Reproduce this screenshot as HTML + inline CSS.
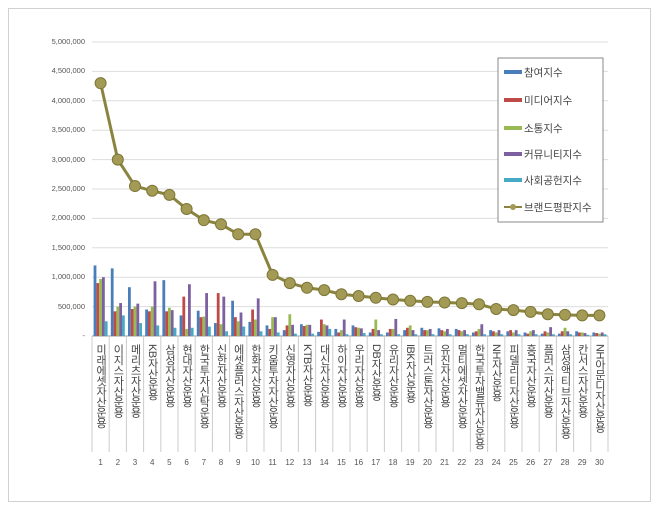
<!DOCTYPE html>
<html><head><meta charset="utf-8">
<style>
body{margin:0;background:#fff;font-family:"Liberation Sans","Noto Sans CJK KR",sans-serif;}
#wrap{position:relative;width:660px;height:511px;}
#frame{position:absolute;left:8px;top:8px;width:643px;height:494px;border:1px solid #d0d0d0;box-sizing:border-box;}
.lbl{position:absolute;writing-mode:vertical-rl;text-orientation:mixed;font-size:11px;color:#444;line-height:12px;letter-spacing:-0.5px;}
.num{position:absolute;font-size:8px;color:#555;text-align:center;width:17px;}
.yt{position:absolute;font-size:7.5px;color:#555;text-align:right;width:70px;}
</style></head><body>
<div id="wrap">
<div id="frame"></div>
<svg id="svg" width="660" height="511" style="position:absolute;left:0;top:0"></svg>
<div id="labels"></div>
</div>
<script>
const categories=["미래에셋자산운용","이지스자산운용","메리츠자산운용","KB자산운용","삼성자산운용","현대자산운용","한국투자신탁운용","신한자산운용","에셋플러스자산운용","한화자산운용","키움투자자산운용","신영자산운용","KTB자산운용","대신자산운용","하이자산운용","우리자산운용","DB자산운용","유리자산운용","IBK자산운용","트러스톤자산운용","유진자산운용","멀티에셋자산운용","한국투자밸류자산운용","NH자산운용","피델리티자산운용","흥국자산운용","플러스자산운용","삼성액티브자산운용","칸서스자산운용","NH아문디자산운용"];
const participation=[1200000,1150000,830000,450000,950000,350000,430000,220000,600000,240000,180000,100000,200000,70000,120000,180000,60000,60000,100000,140000,130000,120000,60000,100000,80000,60000,40000,40000,80000,60000];
const media=[900000,420000,460000,420000,420000,670000,320000,730000,320000,450000,120000,180000,170000,280000,60000,150000,120000,120000,140000,100000,100000,100000,80000,80000,100000,40000,80000,80000,60000,50000];
const communication=[970000,500000,500000,500000,480000,120000,330000,200000,250000,280000,320000,370000,190000,200000,100000,140000,280000,120000,180000,100000,80000,80000,120000,60000,60000,80000,60000,140000,60000,40000];
const community=[1000000,560000,550000,930000,440000,880000,730000,670000,400000,640000,320000,190000,190000,180000,280000,130000,100000,290000,100000,120000,120000,100000,200000,100000,100000,100000,150000,80000,50000,60000];
const social=[250000,350000,220000,180000,140000,140000,160000,80000,160000,80000,60000,40000,40000,120000,30000,50000,30000,30000,30000,30000,30000,30000,30000,30000,30000,30000,30000,30000,20000,30000];
const brand=[4300000,3000000,2550000,2470000,2400000,2160000,1970000,1900000,1730000,1730000,1040000,900000,820000,780000,710000,680000,650000,620000,600000,580000,570000,560000,540000,460000,440000,410000,370000,360000,350000,350000];
const yTicks=[0,500000,1000000,1500000,2000000,2500000,3000000,3500000,4000000,4500000,5000000];
const seriesNames=["참여지수","미디어지수","소통지수","커뮤니티지수","사회공헌지수","브랜드평판지수"];
const colors=["#4a7ebb","#be4b48","#98b954","#7d60a0","#46aac5","#8b8440"];

const NS="http://www.w3.org/2000/svg";
const svg=document.getElementById('svg');
const L=document.getElementById('labels');
const x0=92,x1=608,yBase=336,yTop=42,maxV=5000000;
const cw=(x1-x0)/categories.length;
const y=v=>yBase-(v/maxV)*(yBase-yTop);
const xc=i=>x0+cw*(i+0.5);
function mk(t,a){const e=document.createElementNS(NS,t);for(const k in a)e.setAttribute(k,a[k]);svg.appendChild(e);return e;}
yTicks.forEach((t,k)=>{
 const g=mk('line',{x1:x0,x2:x1,y1:y(t),y2:y(t),stroke:k==0?'#999':'#ddd','stroke-width':1});
 
 
 const d=document.createElement('div');d.className='yt';
 d.style.left='15px';d.style.top=(y(t)-5)+'px';
 d.textContent=t==0?'-':t.toLocaleString('en-US');
 
 
 L.appendChild(d);
});
for(let i=0;i<=categories.length;i++){
 const s=mk('line',{x1:x0+cw*i,x2:x0+cw*i,y1:yBase,y2:452,stroke:'#ccc','stroke-width':1});
 
 
}
const series=[participation,media,communication,community,social];
const bw=2.8;
series.forEach((arr,s)=>{
 arr.forEach((v,i)=>{
  const r=mk('rect',{x:xc(i)-bw*2.5+s*bw,y:y(v),width:bw,height:yBase-y(v),fill:colors[s]});
  
  
 });
});
const pl=mk('polyline',{points:brand.map((v,i)=>xc(i)+','+y(v)).join(' '),fill:'none',stroke:colors[5],'stroke-width':3});


brand.forEach((v,i)=>{
 const c=mk('circle',{cx:xc(i),cy:y(v),r:5.5,fill:'#a39a55',stroke:'#7d7636','stroke-width':1});
 
 
});
categories.forEach((c,i)=>{
 const d=document.createElement('div');d.className='lbl';
 d.style.left=(xc(i)-6)+'px';d.style.top='344px';d.textContent=c;
 
 
 L.appendChild(d);
 const n=document.createElement('div');n.className='num';
 n.style.left=(xc(i)-8.5)+'px';n.style.top='458px';n.textContent=i+1;
 
 
 L.appendChild(n);
});
const lb=mk('rect',{x:498,y:58,width:105,height:164,fill:'#fff',stroke:'#888','stroke-width':1});


const ly=[72,100,128,154,180,207];
seriesNames.forEach((n,k)=>{
 if(k<5){const r=mk('rect',{x:504,y:ly[k]-2,width:18,height:4,fill:colors[k]});
  
  }
 else{const l=mk('line',{x1:504,x2:522,y1:ly[k],y2:ly[k],stroke:colors[5],'stroke-width':2});
  
  
  const c=mk('circle',{cx:513,cy:ly[k],r:3,fill:'#a39a55'});
  
  }
 const t=mk('text',{x:524,y:ly[k]+4,'font-size':10.5,fill:'#444','font-family':'Liberation Sans, Noto Sans CJK KR, sans-serif'});
 t.textContent=n;
 
 
});
</script>
</body></html>
